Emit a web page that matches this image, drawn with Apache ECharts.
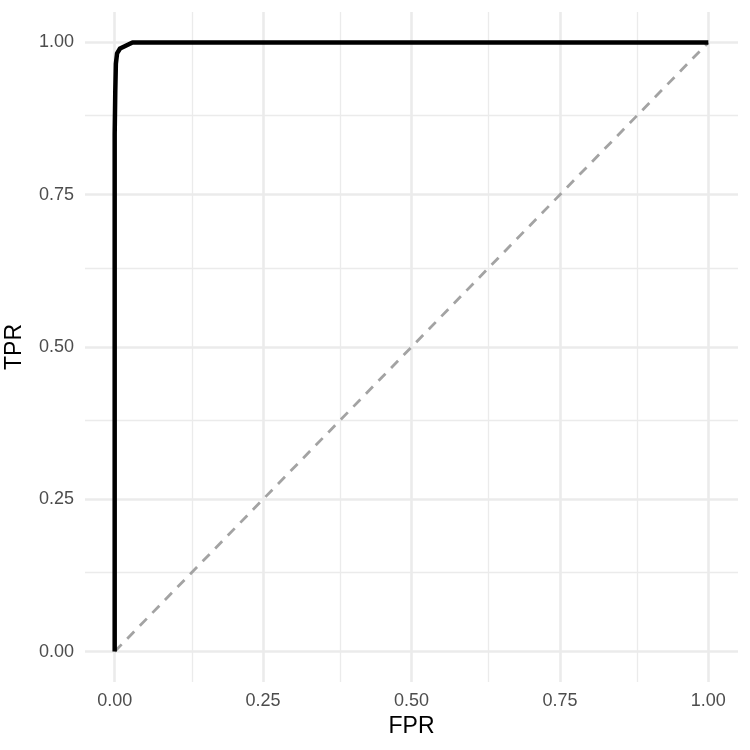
<!DOCTYPE html>
<html>
<head>
<meta charset="utf-8">
<script src="https://cdn.jsdelivr.net/npm/echarts@6/dist/echarts.min.js"></script>
<style>
  html, body { margin: 0; padding: 0; background: #fff; }
  #chart { width: 750px; height: 750px; }
</style>
</head>
<body>
<div id="chart"></div>
<script>
// ROC curve points
var fpr = [0, 0, 0.001, 0.002, 0.004, 0.009, 0.03, 1];
var tpr = [0, 0.85, 0.92, 0.965, 0.982, 0.99, 1, 1];
// chance diagonal
var diagX = [0, 1];
var diagY = [0, 1];
var majorTicks = [0, 0.25, 0.5, 0.75, 1];
var minorTicks = [0.125, 0.375, 0.625, 0.875];

var chart = echarts.init(document.getElementById('chart'));

function gridLines(axis) {
  var out = [];
  majorTicks.forEach(function (v) {
    var d = {lineStyle: {color: '#EBEBEB', width: 2.6, type: 'solid'}};
    d[axis] = v;
    out.push(d);
  });
  minorTicks.forEach(function (v) {
    var d = {lineStyle: {color: '#EBEBEB', width: 1.3, type: 'solid'}};
    d[axis] = v;
    out.push(d);
  });
  return out;
}

function axisCommon(name) {
  return {
    type: 'value',
    min: -0.05,
    max: 1.05,
    name: name,
    nameLocation: 'middle',
    nameTextStyle: {color: '#000', fontSize: 23, fontFamily: 'Liberation Sans'},
    axisLine: {show: false},
    axisTick: {show: false, customValues: majorTicks},
    splitLine: {show: false},
    axisLabel: {
      customValues: majorTicks,
      color: '#4D4D4D',
      fontSize: 18,
      fontFamily: 'Liberation Sans',
      formatter: function (v) { return v.toFixed(2); }
    }
  };
}

var xAxis = axisCommon('FPR');
xAxis.nameGap = 28;
xAxis.axisLabel.margin = 10;
var yAxis = axisCommon('TPR');
yAxis.nameGap = 59;
yAxis.nameRotate = 90;
yAxis.axisLabel.margin = 11;

var option = {
  animation: false,
  backgroundColor: '#fff',
  grid: {left: 85, right: 12, top: 12, bottom: 68, outerBoundsMode: 'none'},
  xAxis: xAxis,
  yAxis: yAxis,
  series: [
    {
      // panel grid lines
      type: 'line',
      data: [],
      silent: true,
      z: 0,
      markLine: {
        silent: true,
        z: 0,
        symbol: ['none', 'none'],
        label: {show: false},
        data: gridLines('xAxis').concat(gridLines('yAxis'))
      }
    },
    {
      name: 'diagonal',
      type: 'line',
      data: diagX.map(function (x, i) { return [x, diagY[i]]; }),
      showSymbol: false,
      lineStyle: {color: '#A3A3A3', width: 2.8, type: [10, 8]},
      z: 2
    },
    {
      name: 'ROC',
      type: 'line',
      data: fpr.map(function (x, i) { return [x, tpr[i]]; }),
      showSymbol: false,
      lineStyle: {color: '#000', width: 4.5, join: 'round'},
      z: 3
    }
  ]
};

chart.setOption(option);
</script>
</body>
</html>
